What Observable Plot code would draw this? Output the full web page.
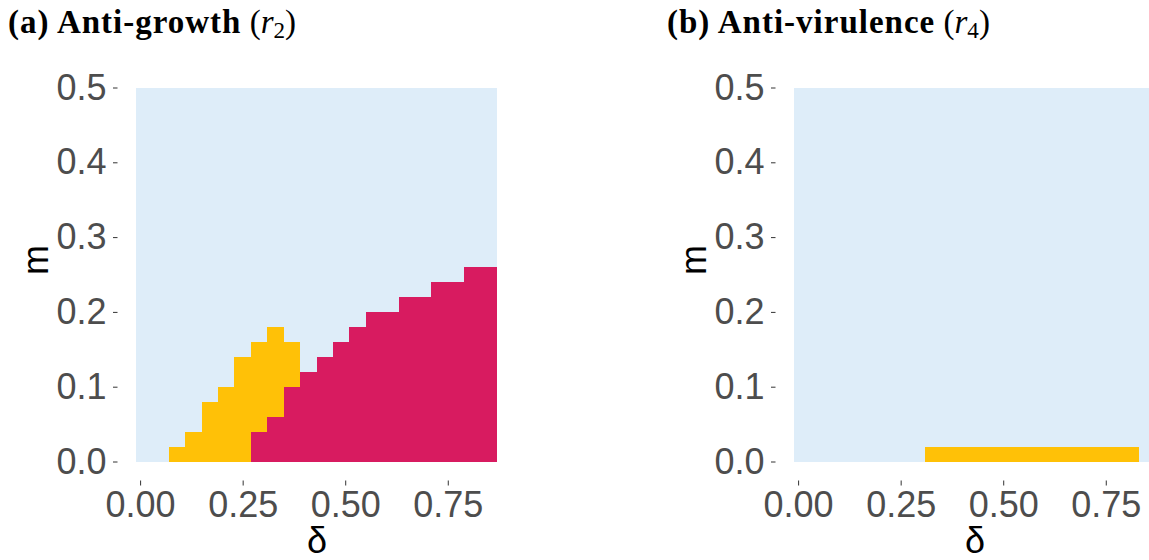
<!DOCTYPE html>
<html>
<head>
<meta charset="utf-8">
<script src="https://cdn.jsdelivr.net/npm/d3@7"></script>
<script src="https://cdn.jsdelivr.net/npm/@observablehq/plot@0.6"></script>
<style>
  body { margin: 0; background: #fff; }
  #fig { position: relative; width: 1149px; height: 560px; overflow: hidden; background: #fff; }
  .panel { position: absolute; top: 0; width: 520px; height: 560px; }
  .panel svg { max-width: none !important; width: 520px; height: 560px; }
  .title {
    position: absolute; top: 6px; white-space: nowrap; color: #000;
    font-family: "Liberation Serif", "Times New Roman", serif;
    font-size: 33px; line-height: 32px;
  }
  .title b { font-weight: bold; letter-spacing: 1px; }
  .title sub { font-size: 0.7em; vertical-align: -0.22em; line-height: 0; }
</style>
</head>
<body>
<div id="fig"></div>
<script>
// Grid of parameter values (cell centres)
const deltas = [0.01, 0.05, 0.09, 0.13, 0.17, 0.21, 0.25, 0.29, 0.33, 0.37, 0.41,
                0.45, 0.49, 0.53, 0.57, 0.61, 0.65, 0.69, 0.73, 0.77, 0.81, 0.85];
const ms = [0.01, 0.03, 0.05, 0.07, 0.09, 0.11, 0.13, 0.15, 0.17, 0.19, 0.21, 0.23, 0.25,
            0.27, 0.29, 0.31, 0.33, 0.35, 0.37, 0.39, 0.41, 0.43, 0.45, 0.47, 0.49];
const deltaStep = 0.04;
const mStep = 0.02;

// Per δ column: upper m boundary of the red region and of the yellow region
const redTopA    = [0, 0, 0, 0, 0, 0, 0, 0.04, 0.06, 0.10, 0.12, 0.14, 0.16, 0.18, 0.20, 0.20, 0.22, 0.22, 0.24, 0.24, 0.26, 0.26];
const yellowTopA = [0, 0, 0.02, 0.04, 0.08, 0.10, 0.14, 0.16, 0.18, 0.16, 0, 0, 0, 0, 0, 0, 0, 0, 0, 0, 0, 0];
const redTopB    = [0, 0, 0, 0, 0, 0, 0, 0, 0, 0, 0, 0, 0, 0, 0, 0, 0, 0, 0, 0, 0, 0];
const yellowTopB = [0, 0, 0, 0, 0, 0, 0, 0, 0.02, 0.02, 0.02, 0.02, 0.02, 0.02, 0.02, 0.02, 0.02, 0.02, 0.02, 0.02, 0.02, 0];

const regimes = ["regime 0", "regime 1", "regime 2"];
const regimeColors = ["#DEEDF9", "#FFC107", "#D81B60"];

const xTicks = [0, 0.25, 0.5, 0.75];
const yTicks = [0, 0.1, 0.2, 0.3, 0.4, 0.5];

const panels = [
  {left: 0,   titleLeft: 8,   tag: "(a)", name: "Anti-growth",    redTop: redTopA, yellowTop: yellowTopA, sub: "2"},
  {left: 658, titleLeft: 667, tag: "(b)", name: "Anti-virulence", redTop: redTopB, yellowTop: yellowTopB, sub: "4"}
];

function buildCells(redTop, yellowTop) {
  const cells = [];
  deltas.forEach((d, i) => {
    ms.forEach(m => {
      const regime = m < redTop[i] ? regimes[2] : m < yellowTop[i] ? regimes[1] : regimes[0];
      cells.push({delta: d, m, regime});
    });
  });
  return cells;
}

function drawPanel(p) {
  const cells = buildCells(p.redTop, p.yellowTop);
  return Plot.plot({
    width: 520,
    height: 560,
    marginLeft: 136,
    marginRight: 23,
    marginTop: 87.5,
    marginBottom: 98.5,
    style: {fontFamily: "'Liberation Sans', Arial, sans-serif", fontSize: "36px", background: "transparent", overflow: "visible"},
    x: {domain: [deltas[0] - deltaStep / 2, deltas[deltas.length - 1] + deltaStep / 2]},
    y: {domain: [ms[0] - mStep / 2, ms[ms.length - 1] + mStep / 2]},
    color: {domain: regimes, range: regimeColors},
    marks: [
      Plot.rect(cells, {
        x1: d => d.delta - deltaStep / 2,
        x2: d => d.delta + deltaStep / 2,
        y1: d => d.m - mStep / 2,
        y2: d => d.m + mStep / 2,
        fill: "regime",
        shapeRendering: "crispEdges"
      }),
      Plot.axisX({ticks: xTicks, tickFormat: d3.format(".2f"), tickSize: 5, tickPadding: 5, dy: 19,
                  label: null, stroke: "#333", fill: "#4D4D4D", fontSize: 36}),
      Plot.axisY({ticks: yTicks, tickFormat: d3.format(".1f"), tickSize: 4.5, tickPadding: 7, dx: -18.5,
                  label: null, stroke: "#333", fill: "#4D4D4D", fontSize: 36}),
      Plot.text(["m"], {text: d => d, frameAnchor: "left", dx: -100, rotate: -90, fill: "#000", fontSize: 36}),
      Plot.text(["δ"], {text: d => d, frameAnchor: "bottom", dy: 91, lineAnchor: "bottom", fill: "#000", fontSize: 36})
    ]
  });
}

const fig = document.getElementById("fig");
for (const p of panels) {
  const holder = document.createElement("div");
  holder.className = "panel";
  holder.style.left = p.left + "px";
  holder.appendChild(drawPanel(p));
  fig.appendChild(holder);

  const title = document.createElement("div");
  title.className = "title";
  title.style.left = p.titleLeft + "px";
  title.innerHTML = `<b>${p.tag} ${p.name}</b> (<i>r</i><sub>${p.sub}</sub>)`;
  fig.appendChild(title);
}
</script>
</body>
</html>
